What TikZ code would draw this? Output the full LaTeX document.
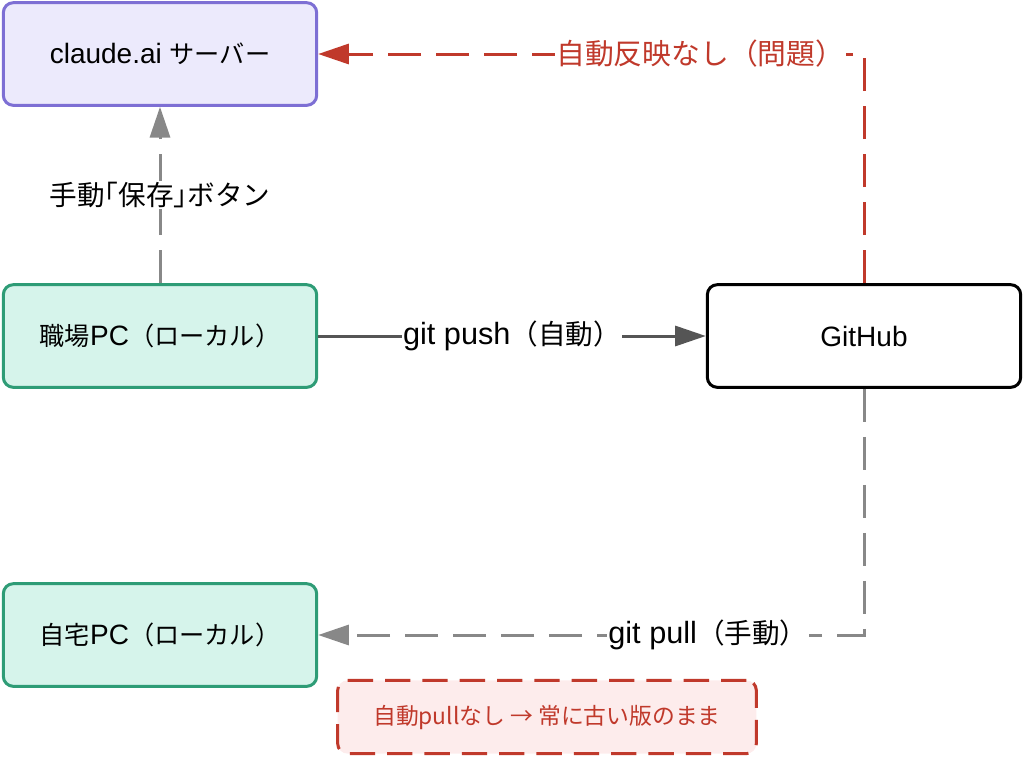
\documentclass[tikz,border=0pt]{standalone}
\usepackage{fontspec}
\setmainfont{Liberation Sans}
\newfontfamily\jp[Scale=0.9]{Noto Sans CJK JP}
\usetikzlibrary{arrows.meta}

\definecolor{srvfill}{HTML}{ECEAFC}
\definecolor{srvline}{HTML}{7D6FD4}
\definecolor{pcfill}{HTML}{D6F4EB}
\definecolor{pcline}{HTML}{2E9C76}
\definecolor{warnred}{HTML}{C0392B}
\definecolor{warnfill}{HTML}{FDECEC}
\definecolor{flowgray}{HTML}{888888}
\definecolor{pushgray}{HTML}{555555}

\begin{document}
\begin{tikzpicture}[x=0.75pt,y=-0.75pt,
  box/.style={draw,rounded corners=7.5pt,line width=2.25pt,
    minimum width=235pt,minimum height=77pt,
    font=\fontsize{21}{25}\selectfont},
  lbl/.style={fill=white,inner sep=1pt,font=\fontsize{23}{27}\selectfont},
  tip/.style={-{Triangle[length=23pt,width=15pt]}},
  dashline/.style={line width=2.25pt,dash pattern=on 25pt off 11pt}]
  \useasboundingbox (0,0) rectangle (1024,758);

  \node[box,fill=srvfill,draw=srvline] (claude) at (160,54) {claude.ai {\jp サーバー}};
  \node[box,fill=pcfill,draw=pcline] (work) at (160,336) {{\jp 職場}PC{\jp （ローカル）}};
  \node[box,fill=white,draw=black] (github) at (864,336) {GitHub};
  \node[box,fill=pcfill,draw=pcline] (home) at (160,635) {{\jp 自宅}PC{\jp （ローカル）}};
  \node[draw=warnred,fill=warnfill,text=warnred,rounded corners=7.5pt,
    line width=2.25pt,dash pattern=on 19pt off 9pt,
    minimum width=314pt,minimum height=55pt,
    font=\jp\fontsize{19}{22}\selectfont] (note) at (547,717)
    {自動pullなし → 常に古い版のまま};

  \draw[tip,dashline,draw=warnred] (github.north) |- (claude.east)
    node[lbl,pos=0.65,text=warnred,font=\fontsize{24}{28}\selectfont] {\jp 自動反映なし（問題）};
  \draw[tip,dashline,draw=flowgray] (work.north) -- (claude.south)
    node[lbl,midway] {\jp 手動｢保存｣ボタン};
  \draw[tip,line width=2.25pt,draw=pushgray] (work.east) -- (github.west)
    node[lbl,midway] {git push{\jp （自動）}};
  \draw[tip,dashline,draw=flowgray] (github.south) |- (home.east)
    node[lbl,pos=0.643] {git pull{\jp （手動）}};
\end{tikzpicture}
\end{document}
